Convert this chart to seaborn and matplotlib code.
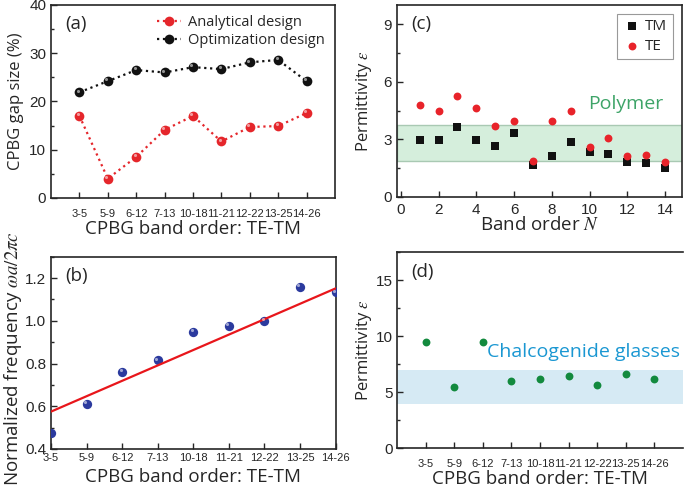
import numpy as np
import pandas as pd
import matplotlib
matplotlib.use("Agg")
import matplotlib.pyplot as plt
import matplotlib.transforms as mtransforms
from matplotlib.ticker import MultipleLocator
import seaborn as sns

# Данные: панель (a) - ширина запрещённой зоны
band_orders = ["3-5", "5-9", "6-12", "7-13", "10-18", "11-21", "12-22", "13-25", "14-26"]
analytical_gap = [17.0, 4.0, 8.5, 14.1, 17.0, 11.7, 14.7, 14.9, 17.6]
optimization_gap = [21.9, 24.2, 26.5, 26.0, 27.1, 26.7, 28.1, 28.6, 24.2]

# панель (b) - нормированная частота
norm_freq = [0.473, 0.611, 0.76, 0.815, 0.949, 0.978, 1.0, 1.16, 1.133]
fit_ends = [0.575, 1.152]  # линия тренда на первой и последней категории

# панель (c) - проницаемость полимера
band_n = list(range(1, 15))
eps_tm = [2.98, 2.96, 3.63, 2.96, 2.66, 3.32, 1.66, 2.14, 2.84, 2.34, 2.25, 1.80, 1.79, 1.50]
eps_te = [4.77, 4.50, 5.27, 4.64, 3.71, 3.95, 1.89, 3.98, 4.50, 2.59, 3.07, 2.13, 2.20, 1.82]
polymer_band = [1.85, 3.75]

# панель (d) - халькогенидные стёкла
eps_chalc = [9.53, 5.52, 9.50, 6.05, 6.17, 6.44, 5.67, 6.62, 6.23]
chalc_band = [4.0, 7.0]

RED = "#e5262b"
BLUE = "#2b3a9e"
GREEN_DOT = "#138a3e"

sns.set_style("ticks")
plt.rcParams["font.family"] = ["Open Sans", "DejaVu Sans"]
plt.rcParams["mathtext.fontset"] = "stix"
plt.rcParams["axes.linewidth"] = 1.2
plt.rcParams["xtick.direction"] = "in"
plt.rcParams["ytick.direction"] = "in"

fig = plt.figure(figsize=(6.85, 4.9), dpi=100)
ax_a = fig.add_axes([0.0745, 0.596, 0.4145, 0.394])
ax_c = fig.add_axes([0.5796, 0.598, 0.416, 0.392])
ax_b = fig.add_axes([0.0745, 0.0837, 0.4155, 0.3923])
ax_d = fig.add_axes([0.580, 0.085, 0.4166, 0.400])

pos = np.arange(1, len(band_orders) + 1)
df_gap = pd.DataFrame({"pos": pos, "analytical": analytical_gap,
                       "optimization": optimization_gap, "freq": norm_freq,
                       "chalc": eps_chalc})
df_eps = pd.DataFrame({"N": band_n, "TM": eps_tm, "TE": eps_te})

tick_family = ["Liberation Sans", "DejaVu Sans"]
cat_font = dict(family=tick_family, size=8)
xlabel_size = 13.5
ylabel_size = 12


def highlight(ax, x, y, size):
    # блик на "шариках"
    off = mtransforms.ScaledTranslation(-1.2 / 72, 1.2 / 72, fig.dpi_scale_trans)
    ax.scatter(x, y, s=size, color="white", alpha=0.55, linewidths=0,
               transform=ax.transData + off, zorder=5)


def style_numeric(ax):
    for lab in ax.get_xticklabels() + ax.get_yticklabels():
        lab.set_fontfamily(tick_family)
        lab.set_fontsize(11)


# (a)
sns.lineplot(data=df_gap, x="pos", y="analytical", ax=ax_a, color=RED,
             linestyle=":", linewidth=1.6, marker="o", markersize=7,
             markeredgewidth=0, label="Analytical design")
sns.lineplot(data=df_gap, x="pos", y="optimization", ax=ax_a, color="#111111",
             linestyle=":", linewidth=1.6, marker="o", markersize=7,
             markeredgewidth=0, label="Optimization design")
highlight(ax_a, df_gap["pos"], df_gap["analytical"], 5)
highlight(ax_a, df_gap["pos"], df_gap["optimization"], 5)
ax_a.set_xlim(0, 10)
ax_a.set_ylim(0, 40)
ax_a.set_yticks([0, 10, 20, 30, 40])
ax_a.yaxis.set_minor_locator(MultipleLocator(5))
ax_a.set_xticks(pos)
style_numeric(ax_a)
ax_a.set_xticklabels(band_orders, **cat_font)
ax_a.tick_params(axis="x", pad=8, length=4)
ax_a.set_xlabel("CPBG band order: TE-TM", fontsize=xlabel_size)
ax_a.set_ylabel("CPBG gap size (%)", fontsize=ylabel_size)
ax_a.xaxis.set_label_coords(0.5, -0.114)
ax_a.yaxis.set_label_coords(-0.095, 0.5)
ax_a.legend(loc="upper right", frameon=False, fontsize=10.5, handlelength=1.6,
            handletextpad=0.5, labelspacing=0.2, borderaxespad=0.3)
ax_a.text(0.05, 0.9, "(a)", transform=ax_a.transAxes, fontsize=13.5, va="center")

# (b)
sns.scatterplot(data=df_gap, x="pos", y="freq", ax=ax_b, color=BLUE, s=45,
                linewidth=0, zorder=3)
highlight(ax_b, df_gap["pos"], df_gap["freq"], 5)
sns.lineplot(x=[pos[0], pos[-1]], y=fit_ends, ax=ax_b, color="#e8161b",
             linewidth=1.6, zorder=4)
ax_b.set_xlim(1, 9)
ax_b.set_ylim(0.4, 1.3)
ax_b.set_yticks([0.4, 0.6, 0.8, 1.0, 1.2])
ax_b.yaxis.set_minor_locator(MultipleLocator(0.1))
ax_b.set_xticks(pos)
style_numeric(ax_b)
ax_b.set_xticklabels(band_orders, **cat_font)
ax_b.tick_params(axis="x", pad=3, length=4)
ax_b.set_xlabel("CPBG band order: TE-TM", fontsize=xlabel_size)
ax_b.set_ylabel(r"Normalized frequency $\omega a/2\pi c$", fontsize=13.5)
ax_b.xaxis.set_label_coords(0.5, -0.099)
ax_b.yaxis.set_label_coords(-0.095, 0.47)
ax_b.text(0.05, 0.9, "(b)", transform=ax_b.transAxes, fontsize=13.5, va="center")

# (c)
ax_c.axhspan(polymer_band[0], polymer_band[1], facecolor="#d5eedc",
             edgecolor="#a9c9b3", linewidth=1.0, zorder=0)
sns.scatterplot(data=df_eps, x="N", y="TM", ax=ax_c, color="#111111",
                marker="s", s=28, linewidth=0, label="TM", zorder=3)
sns.scatterplot(data=df_eps, x="N", y="TE", ax=ax_c, color="#e8232a",
                marker="o", s=32, linewidth=0, label="TE", zorder=3)
ax_c.set_xlim(-0.2, 14.9)
ax_c.set_ylim(0, 10)
ax_c.set_xticks(range(0, 15, 2))
ax_c.set_yticks([0, 3, 6, 9])
ax_c.yaxis.set_minor_locator(MultipleLocator(1.5))
style_numeric(ax_c)
ax_c.tick_params(axis="x", pad=4, length=4)
ax_c.set_xlabel(r"Band order $N$", fontsize=xlabel_size)
ax_c.set_ylabel(r"Permittivity $\varepsilon$", fontsize=ylabel_size)
ax_c.xaxis.set_label_coords(0.5, -0.099)
ax_c.yaxis.set_label_coords(-0.082, 0.5)
leg = ax_c.legend(loc="upper right", fontsize=11, fancybox=False,
                  edgecolor="#999999", framealpha=1, handletextpad=0.3,
                  labelspacing=0.3, borderpad=0.35, borderaxespad=0.6,
                  handlelength=1.2)
leg.get_frame().set_linewidth(0.8)
ax_c.text(0.05, 0.9, "(c)", transform=ax_c.transAxes, fontsize=13.5, va="center")
ax_c.text(9.9, 4.86, "Polymer", color="#3ea468", fontsize=14, va="center")

# (d)
ax_d.axhspan(chalc_band[0], chalc_band[1], facecolor="#d6eaf4",
             edgecolor="none", zorder=0)
sns.scatterplot(data=df_gap, x="pos", y="chalc", ax=ax_d, color=GREEN_DOT,
                s=32, linewidth=0, zorder=3)
ax_d.set_xlim(0, 10)
ax_d.set_ylim(0, 17.5)
ax_d.set_yticks([0, 5, 10, 15])
ax_d.yaxis.set_minor_locator(MultipleLocator(2.5))
ax_d.set_xticks(pos)
style_numeric(ax_d)
ax_d.set_xticklabels(band_orders, **cat_font)
ax_d.tick_params(axis="x", pad=8, length=4)
ax_d.spines["right"].set_visible(False)
ax_d.set_xlabel("CPBG band order: TE-TM", fontsize=xlabel_size)
ax_d.set_ylabel(r"Permittivity $\varepsilon$", fontsize=ylabel_size)
ax_d.xaxis.set_label_coords(0.5, -0.112)
ax_d.yaxis.set_label_coords(-0.082, 0.5)
ax_d.text(0.05, 0.9, "(d)", transform=ax_d.transAxes, fontsize=13.5, va="center")
ax_d.text(3.14, 8.57, "Chalcogenide glasses", color="#1a97d2", fontsize=14,
          va="center")

for ax in (ax_a, ax_b, ax_c, ax_d):
    ax.tick_params(which="major", length=4, width=1)
    ax.tick_params(which="minor", length=2.5, width=1)

fig.savefig("out.png", dpi=100)
